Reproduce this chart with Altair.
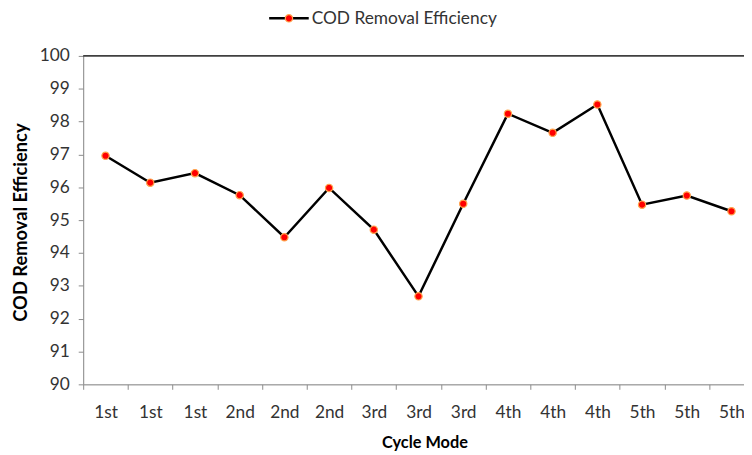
import altair as alt
import pandas as pd

cycle_labels = ["1st", "1st", "1st", "2nd", "2nd", "2nd", "3rd", "3rd", "3rd",
                "4th", "4th", "4th", "5th", "5th", "5th"]
cod_values = [96.96, 96.14, 96.43, 95.76, 94.48, 95.98, 94.71, 92.68, 95.50,
              98.24, 97.66, 98.52, 95.47, 95.75, 95.27]
series_name = "COD Removal Efficiency"
y_ticks = list(range(90, 101))

FONT = "Lato"
GRAY = "#8c8c8c"

df = pd.DataFrame({
    "pos": [i + 0.5 for i in range(len(cod_values))],
    "label": cycle_labels,
    "value": cod_values,
})

xscale = alt.Scale(domain=[0, 14.78], nice=False, zero=False)
yscale = alt.Scale(domain=[90, 100], nice=False, zero=False)

label_expr = "[" + ",".join(f"'{l}'" for l in cycle_labels) + "][floor(datum.value)]"

base = alt.Chart(df)

line = base.mark_line(color="black", strokeWidth=2.5).encode(
    x=alt.X("pos:Q", scale=xscale,
            axis=alt.Axis(orient="bottom", values=list(range(15)), labels=False,
                          title=None, grid=False, domainColor=GRAY, tickColor=GRAY,
                          tickSize=5, domainWidth=1)),
    y=alt.Y("value:Q", scale=yscale,
            axis=alt.Axis(values=y_ticks, grid=False, domainColor=GRAY, tickColor=GRAY,
                          tickSize=5, labelFontSize=17.5, labelFont=FONT, labelColor="#333",
                          labelPadding=9, title="COD Removal Efficiency",
                          titleFont=FONT, titleFontSize=18.5, titleFontWeight="bold",
                          titleColor="black", titleX=-53, titleY=168)),
)

points = base.mark_point(filled=True, fill="#ff0000", stroke="#ffa64d", strokeWidth=1.2,
                         size=55, opacity=1).encode(
    x=alt.X("pos:Q", scale=xscale,
            axis=alt.Axis(orient="bottom", values=[i + 0.5 for i in range(15)],
                          labelExpr=label_expr, ticks=False, domain=False, grid=False,
                          labelFontSize=17.5, labelFont=FONT, labelColor="#333",
                          labelPadding=20, title="Cycle Mode", titleFont=FONT,
                          titleFontSize=16.5, titleFontWeight="bold", titleColor="black",
                          titleX=345, titlePadding=13)),
    y=alt.Y("value:Q", scale=yscale, axis=None),
)

top_rule = alt.Chart(pd.DataFrame({"v": [100]})).mark_rule(color="black", strokeWidth=1.2).encode(
    y=alt.Y("v:Q", scale=yscale, axis=None),
    x=alt.value(0), x2=alt.value(668),
)

leg_line = alt.Chart(pd.DataFrame({"n": [series_name]})).mark_rule(color="black", strokeWidth=2.5).encode(
    x=alt.value(188), x2=alt.value(228), y=alt.value(-38),
)
leg_pt = alt.Chart(pd.DataFrame({"n": [series_name]})).mark_point(
    filled=True, fill="#ff0000", stroke="#ffa64d", strokeWidth=1.2, size=55, opacity=1).encode(
    x=alt.value(208), y=alt.value(-38),
)
leg_text = alt.Chart(pd.DataFrame({"n": [series_name]})).mark_text(
    align="left", baseline="middle", font=FONT, fontSize=17.5, color="#333").encode(
    x=alt.value(231), y=alt.value(-37), text="n:N",
)

chart = alt.layer(top_rule, line, points, leg_line, leg_pt, leg_text).resolve_axis(
    x="independent", y="independent"
).properties(
    width=668, height=332,
    padding={"left": 76, "top": 46, "right": 0, "bottom": 70},
    autosize=alt.AutoSizeParams(type="none"),
).configure_view(stroke=None).configure(background="white")

chart.save("out.html", embed_options={"renderer": "svg", "actions": False})
